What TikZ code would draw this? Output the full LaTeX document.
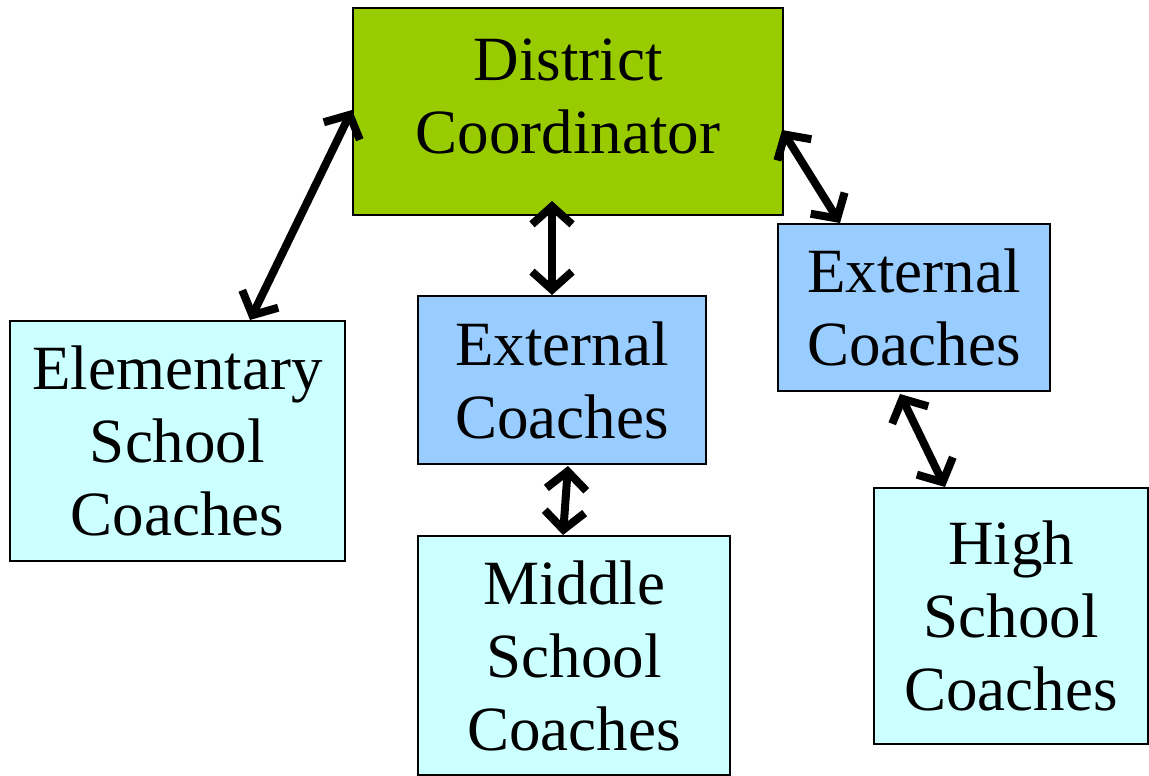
\documentclass[tikz,border=0pt]{standalone}
\usepackage{fontspec}
\setmainfont{Liberation Serif}
\usetikzlibrary{arrows.meta,calc}
\definecolor{dcgreen}{HTML}{99CC00}
\definecolor{schoolcyan}{HTML}{CCFFFF}
\definecolor{extblue}{HTML}{99CCFF}
\begin{document}
\begin{tikzpicture}[x=1pt,y=-1pt,
  box/.style={draw=black,line width=2pt,inner sep=0pt,align=center,
    font=\fontsize{63}{73}\selectfont},
  link/.style={draw=black,line width=8pt,line cap=round,
    {Straight Barb[length=18pt,width=40pt]}-{Straight Barb[length=18pt,width=40pt]}}]
\useasboundingbox (0,0) rectangle (1149,776);
% coordinator box, text sits in its upper part
\node[box,fill=dcgreen,minimum width=430pt,minimum height=207pt] (dc) at (568,111.5) {};
\node[font=\fontsize{63}{73}\selectfont,align=center,inner sep=0pt] (dctext) at (568,96) {District\\Coordinator};
% school coaches
\node[box,fill=schoolcyan,minimum width=335pt,minimum height=240pt] (es) at (177.5,441) {Elementary\\School\\Coaches};
\node[box,fill=schoolcyan,minimum width=312pt,minimum height=239pt] (ms) at (574,655.5) {Middle\\School\\Coaches};
\node[box,fill=schoolcyan,minimum width=274pt,minimum height=256pt] (hs) at (1011,616) {High\\School\\Coaches};
% external coaches
\node[box,fill=extblue,minimum width=288pt,minimum height=168pt] (e1) at (562,380) {External\\Coaches};
\node[box,fill=extblue,minimum width=272pt,minimum height=167pt] (e2) at (914,307.5) {External\\Coaches};
% two-way links
\path[link] ($(dc.west)+(0,-1.5)$) -- ($(es.north)+(72.5,0)$);
\path[link] ($(dc.south)+(-16,-15)$) -- ($(e1.north)+(-10,0)$);
\path[link] ($(dc.east)+(-2,18.5)$) -- ($(e2.north)+(-74,0)$);
\path[link] ($(e1.south)+(6,1)$) -- ($(ms.north)+(-11,0)$);
\path[link] ($(e2.south)+(-14,2)$) -- ($(hs.north)+(-66,0)$);
\end{tikzpicture}
\end{document}
